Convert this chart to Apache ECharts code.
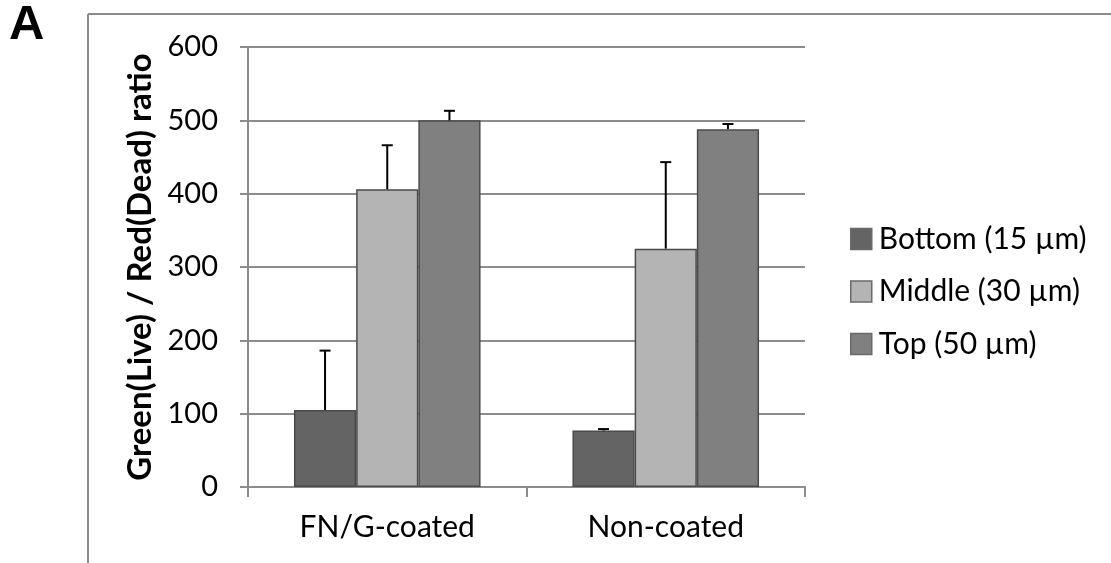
<!DOCTYPE html>
<html>
<head>
<meta charset="utf-8">
<script src="https://cdn.jsdelivr.net/npm/echarts@6/dist/echarts.min.js"></script>
<style>
html,body{margin:0;padding:0;background:#fff;}
#chart{width:1111px;height:563px;}
</style>
</head>
<body>
<div id="chart"></div>
<script>
const categories = ['FN/G-coated', 'Non-coated'];
const seriesNames = ['Bottom (15 \u00b5m)', 'Middle (30 \u00b5m)', 'Top (50 \u00b5m)'];
const bottomValues = [105, 77];
const middleValues = [406, 325];
const topValues = [500, 488];
const bottomErrTop = [186, 79];
const middleErrTop = [466, 443];
const topErrTop = [513, 495];
const yTicks = [0, 100, 200, 300, 400, 500, 600];

const colors = ['#646464', '#b4b4b4', '#808080'];
const values = [bottomValues, middleValues, topValues];
const errTops = [bottomErrTop, middleErrTop, topErrTop];
const FONT = 'Lato, "Open Sans", sans-serif';
const GAP = 0.33;

const chart = echarts.init(document.getElementById('chart'), null, {renderer: 'canvas'});

const barSeries = seriesNames.map((name, i) => ({
  name: name,
  type: 'bar',
  data: values[i],
  barGap: '0%',
  barCategoryGap: (GAP * 100) + '%',
  itemStyle: {color: colors[i], borderColor: '#4a4a4a', borderWidth: 1.5},
  z: 2
}));

const errSeries = seriesNames.map((name, i) => ({
  type: 'custom',
  silent: true,
  z: 5,
  data: categories.map((c, k) => [k, values[i][k], errTops[i][k]]),
  encode: {x: 0, y: [1, 2]},
  renderItem: function (params, api) {
    const k = api.value(0);
    const band = api.size([1, 0])[0];
    const bw = band * (1 - GAP) / 3;
    const c0 = api.coord([k, api.value(1)]);
    const c1 = api.coord([k, api.value(2)]);
    const x = c0[0] + (i - 1) * bw;
    const style = {stroke: '#000', lineWidth: 2};
    return {
      type: 'group',
      children: [
        {type: 'line', shape: {x1: x, y1: c0[1], x2: x, y2: c1[1]}, style: style},
        {type: 'line', shape: {x1: x - 5.5, y1: c1[1], x2: x + 5.5, y2: c1[1]}, style: style}
      ]
    };
  }
}));

chart.setOption({
  animation: false,
  backgroundColor: '#fff',
  textStyle: {fontFamily: FONT},
  grid: {left: 248, right: 306, top: 47, bottom: 76, containLabel: false},
  legend: {
    orient: 'vertical',
    left: 845,
    top: 218,
    itemWidth: 21,
    itemHeight: 21,
    itemGap: 20.5,
    icon: 'rect',
    data: seriesNames.map((n, i) => ({name: n, itemStyle: {color: colors[i], borderColor: '#6a6a6a', borderWidth: 1.5}})),
    textStyle: {fontFamily: FONT, fontSize: 30, lineHeight: 32, color: '#000', padding: [0, 0, 0, 2]}
  },
  xAxis: {
    type: 'category',
    data: categories,
    boundaryGap: true,
    axisLine: {lineStyle: {color: '#8c8c8c', width: 2}},
    axisTick: {show: true, alignWithLabel: false, length: 10, lineStyle: {color: '#8c8c8c', width: 2}},
    axisLabel: {fontFamily: FONT, fontSize: 30, color: '#000', margin: 25}
  },
  yAxis: {
    type: 'value',
    min: yTicks[0],
    max: yTicks[yTicks.length - 1],
    interval: yTicks[1] - yTicks[0],
    name: 'Green(Live) / Red(Dead) ratio',
    nameLocation: 'middle',
    nameGap: 90,
    nameTextStyle: {fontFamily: FONT, fontSize: 33, fontWeight: 'bold', color: '#000'},
    axisLine: {show: true, lineStyle: {color: '#8c8c8c', width: 2}},
    axisTick: {show: true, inside: false, length: 8, lineStyle: {color: '#8c8c8c', width: 2}},
    axisLabel: {fontFamily: FONT, fontSize: 29, color: '#000', margin: 30},
    splitLine: {show: true, lineStyle: {color: '#8c8c8c', width: 2}}
  },
  graphic: [
    {type: 'line', shape: {x1: 88, y1: 14, x2: 1111, y2: 14}, style: {stroke: '#8c8c8c', lineWidth: 2}, silent: true},
    {type: 'line', shape: {x1: 88, y1: 14, x2: 88, y2: 563}, style: {stroke: '#8c8c8c', lineWidth: 2}, silent: true},
    {type: 'text', left: 9, top: 1, style: {text: 'A', fontFamily: 'Liberation Sans, Arial, sans-serif', fontSize: 49, fontWeight: 'bold', fill: '#000'}}
  ],
  series: barSeries.concat(errSeries)
});
</script>
</body>
</html>
